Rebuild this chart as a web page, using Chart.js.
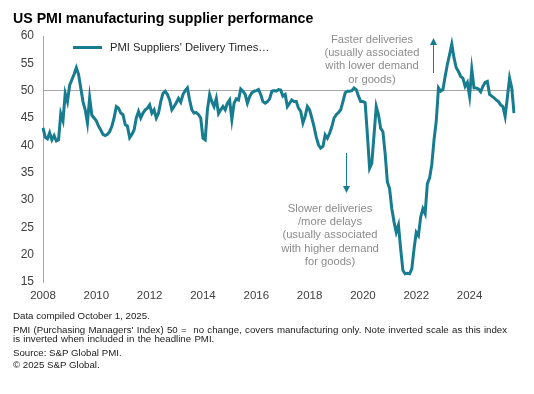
<!DOCTYPE html>
<html>
<head>
<meta charset="utf-8">
<script src="https://cdn.jsdelivr.net/npm/chart.js@4.4.1/dist/chart.umd.min.js"></script>
<style>
  body { margin: 0; background: #fff; font-family: Arial, "Liberation Sans", sans-serif; }
  #wrap { position: relative; width: 534px; height: 394px; overflow: hidden; }
  #chart { position: absolute; left: 0; top: 0; }
  .abs { position: absolute; white-space: nowrap; }
  #title { left: 13px; top: 10px; font-size: 14.2px; line-height: 16px; font-weight: bold; color: #000; }
  #legend { left: 73px; top: 40px; font-size: 11.2px; line-height: 14px; color: #262626; }
  #legend i { display: inline-block; width: 29px; height: 3px; background: #177c8f; vertical-align: middle; margin-right: 8px; position: relative; top: -1px; }
  .note { font-size: 11.2px; line-height: 13.2px; color: #8c8c8c; text-align: center; transform: translateX(-50%); }
  .foot { left: 13px; font-size: 9.7px; line-height: 12px; color: #1a1a1a; }
</style>
</head>
<body>
<div id="wrap">
  <canvas id="chart" width="534" height="394"></canvas>
  <div id="title" class="abs">US PMI manufacturing supplier performance</div>
  <div id="legend" class="abs"><i></i>PMI Suppliers' Delivery Times…</div>
  <div class="abs note" style="left:372px; top:33px;">Faster deliveries<br>(usually associated<br>with lower demand<br>or goods)</div>
  <div class="abs note" style="left:330px; top:202px;">Slower deliveries<br>/more delays<br>(usually associated<br>with higher demand<br>for goods)</div>
  <div class="abs foot" style="top:310px;">Data compiled October 1, 2025.</div>
  <div class="abs foot" style="top:324px; word-spacing:0.6px;">PMI (Purchasing Managers' Index) 50 =&nbsp; no change, covers manufacturing only. Note inverted scale as this index</div>
  <div class="abs foot" style="top:333px; word-spacing:0.6px;">is inverted when included in the headline PMI.</div>
  <div class="abs foot" style="top:347px;">Source: S&amp;P Global PMI.</div>
  <div class="abs foot" style="top:359px;">© 2025 S&amp;P Global.</div>
</div>
<script>
// PMI Suppliers' Delivery Times index, monthly from Jan 2008
const v2008 = [43.2, 41.5, 41.2, 42.3, 41.0, 41.8, 40.8, 41.0, 45.8, 44.5, 49.5, 48.0];
const v2009 = [51.0, 52.0, 53.0, 54.2, 53.0, 50.5, 48.0, 46.5, 44.1, 48.7, 45.5, 45.0];
const v2010 = [44.5, 43.5, 42.8, 42.0, 41.8, 42.0, 42.5, 43.5, 45.0, 47.1, 46.8, 45.9];
const v2011 = [45.6, 43.8, 43.5, 41.4, 42.0, 42.8, 45.0, 46.2, 45.0, 45.9, 46.5, 46.8];
const v2012 = [47.4, 45.9, 46.5, 45.0, 45.9, 48.0, 49.5, 49.9, 49.3, 48.3, 46.5, 47.1];
const v2013 = [47.8, 48.6, 47.9, 49.3, 50.0, 50.5, 48.3, 46.5, 45.9, 46.0, 45.6, 45.0];
const v2014 = [41.3, 41.0, 46.5, 49.3, 48.0, 47.1, 48.6, 45.8, 46.5, 47.1, 46.5, 47.7];
const v2015 = [48.3, 44.7, 47.7, 48.5, 48.3, 50.3, 49.9, 49.3, 47.7, 48.9, 49.6, 49.9];
const v2016 = [50.0, 50.2, 49.3, 48.0, 47.7, 48.0, 48.5, 49.9, 50.0, 49.9, 50.2, 50.1];
const v2017 = [49.0, 49.3, 47.1, 47.7, 48.3, 48.0, 48.0, 46.8, 46.2, 44.1, 45.3, 47.1];
const v2018 = [46.5, 45.0, 43.4, 41.5, 40.1, 39.5, 39.8, 41.9, 41.3, 42.2, 43.4, 45.0];
const v2019 = [45.6, 46.0, 46.5, 48.0, 49.6, 49.9, 49.9, 50.0, 50.5, 50.2, 49.0, 48.0];
const v2020 = [48.0, 47.8, 42.0, 35.8, 36.7, 41.9, 47.1, 45.6, 43.1, 42.5, 38.5, 33.3];
const v2021 = [32.1, 28.4, 26.0, 24.1, 25.4, 21.0, 17.1, 16.5, 16.6, 16.5, 17.4, 21.0];
const v2022 = [24.1, 23.5, 26.9, 28.4, 27.5, 33.0, 34.0, 36.5, 41.0, 44.4, 50.5, 49.9];
const v2023 = [50.2, 52.6, 54.8, 56.6, 58.5, 56.0, 54.2, 53.5, 52.6, 52.3, 50.8, 51.5];
const v2024 = [49.0, 53.9, 50.5, 50.5, 50.3, 49.8, 50.8, 51.5, 51.7, 49.3, 49.0, 48.7];
const v2025 = [48.3, 48.0, 47.4, 47.1, 45.3, 48.7, 52.3, 50.5, 45.9];

const seriesName = "PMI Suppliers' Delivery Times…";
const yearTicks = ['2008', '2010', '2012', '2014', '2016', '2018', '2020', '2022', '2024'];
const firstYear = 2008;

const values = [].concat(v2008, v2009, v2010, v2011, v2012, v2013, v2014, v2015, v2016,
  v2017, v2018, v2019, v2020, v2021, v2022, v2023, v2024, v2025);
const monthLabels = values.map((_, i) => (firstYear + Math.floor(i / 12)) + '-' + String(i % 12 + 1).padStart(2, '0'));

const teal = '#177c8f';
const axisGray = '#a6a6a6';

// arrows beside the notes
const arrows = {
  id: 'arrows',
  afterDraw(chart) {
    const c = chart.ctx;
    const draw = (x, y0, y1) => {
      const dir = y1 < y0 ? -1 : 1;
      c.save();
      c.strokeStyle = teal; c.fillStyle = teal; c.lineWidth = 1;
      c.beginPath(); c.moveTo(x, y0); c.lineTo(x, y1 - dir * 6); c.stroke();
      c.beginPath(); c.moveTo(x, y1); c.lineTo(x - 3.5, y1 - dir * 7); c.lineTo(x + 3.5, y1 - dir * 7); c.closePath(); c.fill();
      c.restore();
    };
    draw(433.5, 73, 38);
    draw(346.5, 153, 193);
  }
};

new Chart(document.getElementById('chart'), {
  type: 'line',
  data: {
    labels: monthLabels,
    datasets: [{ label: seriesName, data: values, borderColor: teal, borderWidth: 3, pointRadius: 0, tension: 0, fill: false }]
  },
  options: {
    responsive: false,
    animation: false,
    devicePixelRatio: 1,
    layout: { padding: { left: 0, top: 36, right: 20, bottom: 84 } },
    plugins: { legend: { display: false }, tooltip: { enabled: false } },
    scales: {
      x: {
        type: 'category',
        offset: false,
        grid: { display: false, drawTicks: false },
        border: { display: false },
        afterFit: s => { s.height = 28; },
        ticks: {
          autoSkip: false, maxRotation: 0, padding: 7,
          color: '#404040', font: { family: 'Arial, "Liberation Sans", sans-serif', size: 11.5 },
          callback: (v, i) => (i % 24 === 0 ? yearTicks[i / 24] : null)
        }
      },
      y: {
        min: 15, max: 60,
        afterFit: s => { s.width = 43; },
        border: { display: true, color: axisGray, width: 1 },
        grid: { drawTicks: false, color: ctx => (ctx.tick && ctx.tick.value === 50 ? axisGray : 'rgba(0,0,0,0)'), lineWidth: 1 },
        ticks: { stepSize: 5, padding: 9, color: '#404040', font: { family: 'Arial, "Liberation Sans", sans-serif', size: 12 } }
      }
    }
  },
  plugins: [arrows]
});
</script>
</body>
</html>
